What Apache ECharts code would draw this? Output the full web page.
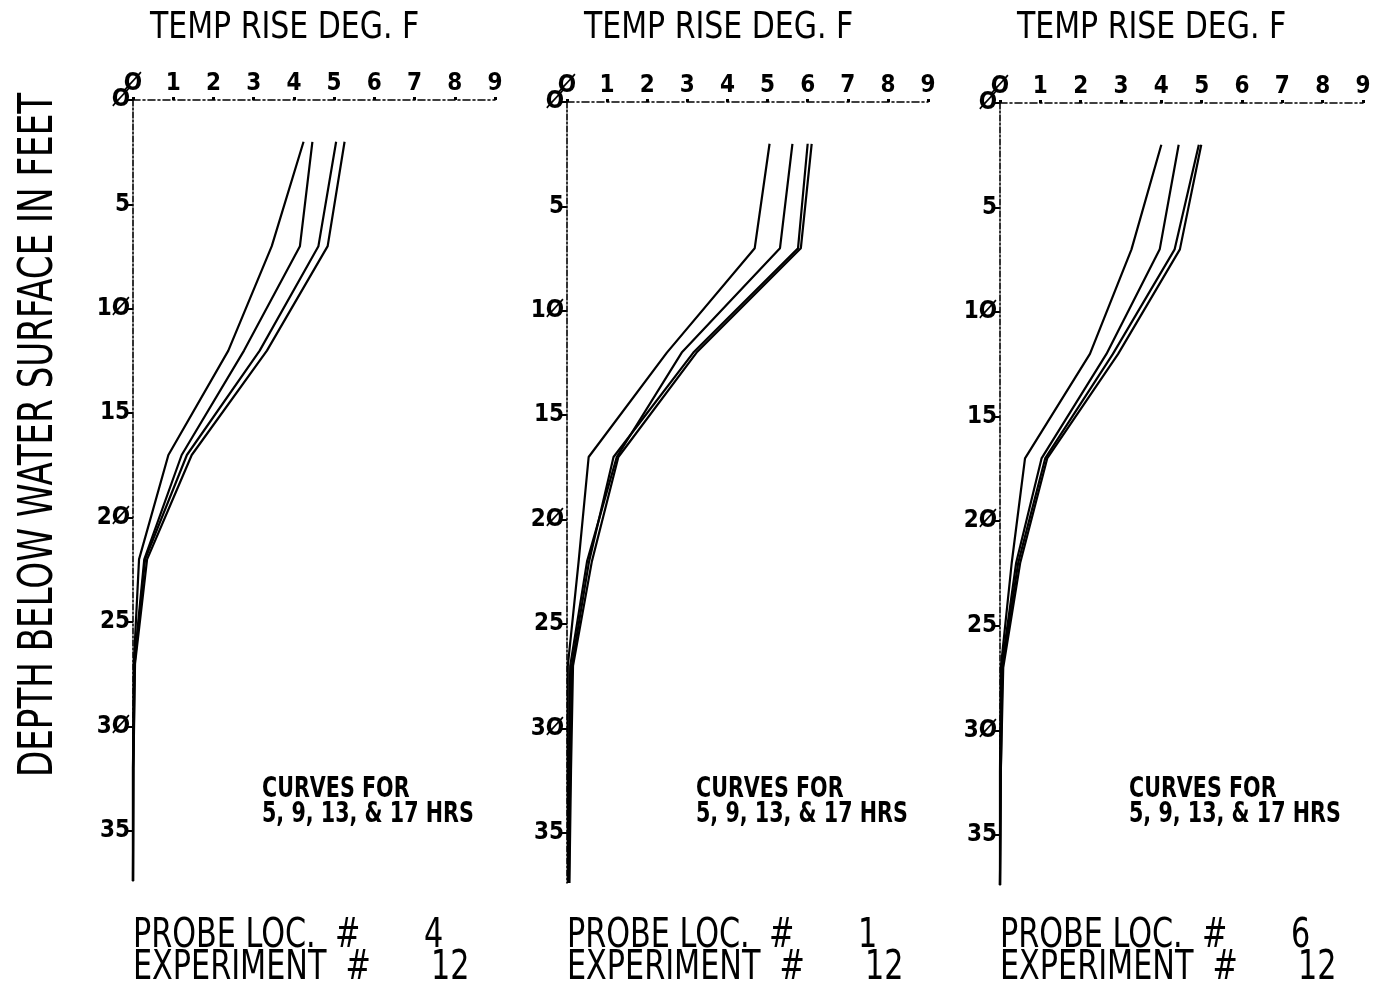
<!DOCTYPE html>
<html><head><meta charset="utf-8">
<script src="https://cdn.jsdelivr.net/npm/echarts@6/dist/echarts.min.js"></script>
<style>html,body{margin:0;padding:0;background:#fff}#c{width:1377px;height:988px}</style>
</head><body><div id="c"></div>
<script>
// Depths (ft) at which the curves were plotted
const depths = [2, 7, 12, 17, 22, 27, 32, 37.4];
// Temperature rise (deg F) for 5, 9, 13 & 17 hrs
const probe4_h5  = [4.24, 3.45, 2.37, 0.88, 0.15, 0.02, 0.00, 0.00];
const probe4_h9  = [4.46, 4.15, 2.76, 1.21, 0.28, 0.03, 0.00, 0.00];
const probe4_h13 = [5.05, 4.61, 3.15, 1.34, 0.30, 0.04, 0.01, 0.00];
const probe4_h17 = [5.26, 4.84, 3.33, 1.46, 0.35, 0.05, 0.01, 0.00];

const probe1_h5  = [5.05, 4.68, 2.49, 0.54, 0.29, 0.02, 0.02, 0.03];
const probe1_h9  = [5.62, 5.31, 2.86, 1.24, 0.50, 0.08, 0.05, 0.04];
const probe1_h13 = [6.00, 5.76, 3.15, 1.16, 0.55, 0.12, 0.08, 0.05];
const probe1_h17 = [6.10, 5.83, 3.23, 1.28, 0.62, 0.15, 0.10, 0.06];

const probe6_h5  = [4.00, 3.26, 2.23, 0.62, 0.29, 0.02, 0.00, 0.00];
const probe6_h9  = [4.43, 3.96, 2.64, 1.03, 0.40, 0.04, 0.01, 0.00];
const probe6_h13 = [4.93, 4.33, 2.80, 1.12, 0.45, 0.06, 0.02, 0.00];
const probe6_h17 = [4.99, 4.46, 2.93, 1.17, 0.50, 0.08, 0.02, 0.00];

const xTicks = [0,1,2,3,4,5,6,7,8,9];
const yTicks = [0,5,10,15,20,25,30,35];
const panelTitle = 'TEMP RISE DEG. F';
const yTitle = 'DEPTH BELOW WATER SURFACE IN FEET';
const curvesNote = 'CURVES FOR\n5, 9, 13, & 17 HRS';
const probeNos = ['4', '1', '6'];
const experimentNos = ['12', '12', '12'];

const panels = [
  [probe4_h5, probe4_h9, probe4_h13, probe4_h17],
  [probe1_h5, probe1_h9, probe1_h13, probe1_h17],
  [probe6_h5, probe6_h9, probe6_h13, probe6_h17]
];
const hrs = ['5 HRS', '9 HRS', '13 HRS', '17 HRS'];

const FONT = '"DejaVu Sans Condensed", "DejaVu Sans", sans-serif';
const slash = v => String(v).replace(/0/g, 'Ø');

const grids = [
  {left: 133, top: 100, width: 362, height: 781},
  {left: 567, top: 102, width: 361, height: 781},
  {left: 1000, top: 103, width: 363, height: 782}
];

const xAxes = grids.map((g, i) => ({
  gridIndex: i, type: 'value', position: 'top', min: 0, max: 9, interval: 1,
  axisLine: {show: true, lineStyle: {color: '#000', width: 1.6, type: [7, 3, 2, 3]}},
  axisTick: {show: true, length: 3, lineStyle: {color: '#000', width: 3}},
  axisLabel: {color: '#000', fontFamily: FONT, fontWeight: 'bold', fontSize: 24, margin: 4,
    customValues: xTicks, formatter: slash},
  splitLine: {show: false}
}));
const yAxes = grids.map((g, i) => ({
  gridIndex: i, type: 'value', inverse: true, min: 0, max: 37.4,
  axisLine: {show: true, lineStyle: {color: '#000', width: 1.6, type: [6, 2, 2, 2]}},
  axisTick: {show: true, length: 5, customValues: yTicks, lineStyle: {color: '#000', width: 2}},
  axisLabel: {color: '#000', fontFamily: FONT, fontWeight: 'bold', fontSize: 24, margin: 3,
    customValues: yTicks, formatter: slash},
  splitLine: {show: false}
}));

const series = [];
panels.forEach((curves, p) => {
  curves.forEach((vals, k) => {
    series.push({
      type: 'line', name: hrs[k], xAxisIndex: p, yAxisIndex: p,
      data: vals.map((v, j) => [v, depths[j]]),
      symbol: 'none', silent: true, animation: false,
      lineStyle: {color: '#000', width: 2.2}
    });
  });
});

function txt(x, y, text, font, sx, extra) {
  return Object.assign({type: 'text', x: x, y: y, scaleX: sx, scaleY: 1,
    style: Object.assign({text: text, font: font, fill: '#000', verticalAlign: 'top'}, extra || {})});
}

const graphics = [];
grids.forEach((g, i) => {
  graphics.push(txt(g.left + 17, 10, panelTitle, '37px ' + FONT, 0.9));
  graphics.push(txt(g.left + 129, 777, curvesNote, 'bold 28px ' + FONT, 0.82, {lineHeight: 25}));
  graphics.push(txt(g.left, 916, 'PROBE LOC.  #', '41px ' + FONT, 0.82));
  graphics.push(txt(g.left, 948, 'EXPERIMENT  #', '41px ' + FONT, 0.82));
  graphics.push(txt(g.left + 291, 916, probeNos[i], '41px ' + FONT, 0.82));
  graphics.push(txt(g.left + 298, 948, experimentNos[i], '41px ' + FONT, 0.82));
});
graphics.push({type: 'text', x: 40, y: 435, rotation: Math.PI / 2, scaleX: 0.79, scaleY: 1,
  style: {text: yTitle, font: '48px ' + FONT, fill: '#000', align: 'center', verticalAlign: 'middle'}});

const chart = echarts.init(document.getElementById('c'), null, {renderer: 'canvas'});
chart.setOption({
  backgroundColor: '#fff',
  animation: false,
  grid: grids,
  xAxis: xAxes,
  yAxis: yAxes,
  series: series,
  graphic: graphics
});
</script></body></html>
